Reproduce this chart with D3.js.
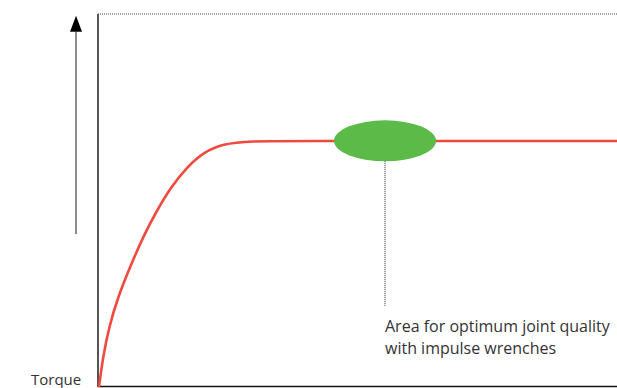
<!DOCTYPE html>
<html>
<head>
<meta charset="utf-8">
<script src="https://cdn.jsdelivr.net/npm/d3@7"></script>
<style>
  body { margin: 0; background: #fff; }
  svg { display: block; }
  text { font-family: "Open Sans", "Liberation Sans", Arial, sans-serif; fill: #333; }
</style>
</head>
<body>
<div id="chart-div"></div>
<script>
var props = {
  width: 617,
  height: 388,
  marginTop: 14,
  marginBottom: 1,
  marginLeft: 98,
  marginRight: 0
}

// torque curve, time (%) vs torque (%)
var curveTime   = [0.19, 0.96, 2.12, 3.85, 6.17, 8.67, 11.18, 14.07, 17.15, 20.42, 24.08, 28.9, 40, 70, 100];
var curveTorque = [0, 8.04, 16.09, 24.13, 32.17, 40.21, 46.92, 53.62, 58.98, 63.0, 65.15, 65.95, 65.95, 65.95, 65.95];

var optimumArea = [{time: 55.3, torque: 66}];
var calloutEnd = 21.7;
var yLabel = "Torque";
var noteLines = ["Area for optimum joint quality", "with impulse wrenches"];

var svg = d3.select("#chart-div").append("svg").attr("width", props.width).attr("height", props.height);

var xScale = d3.scaleLinear().domain([0, 100]).range([props.marginLeft, props.width - props.marginRight]);
var yScale = d3.scaleLinear().domain([0, 100]).range([props.height - props.marginBottom, props.marginTop]);

var points = curveTime.map(function(t, i){ return {x: t, y: curveTorque[i]}; });

// top dotted border
svg.append("line")
  .attr("x1", xScale(0)).attr("x2", xScale(100))
  .attr("y1", yScale(100)).attr("y2", yScale(100))
  .style("stroke", "#444").style("stroke-width", 1).style("stroke-dasharray", "1,1");

// y axis
svg.append("line")
  .attr("x1", xScale(0)).attr("x2", xScale(0))
  .attr("y1", yScale(100)).attr("y2", yScale(0))
  .style("stroke", "#555").style("stroke-width", 2);

// x axis
svg.append("line")
  .attr("x1", xScale(0)).attr("x2", xScale(100))
  .attr("y1", yScale(0) - 0.5).attr("y2", yScale(0) - 0.5)
  .style("stroke", "#111").style("stroke-width", 1.5);

// arrow beside y axis
var arrowTop = yScale(99.5);
svg.append("line")
  .attr("x1", 76).attr("x2", 76)
  .attr("y1", yScale(41)).attr("y2", arrowTop + 16)
  .style("stroke", "#666").style("stroke-width", 1.5);
svg.append("path")
  .attr("d", "M70," + (arrowTop + 16) + " L76," + arrowTop + " L82," + (arrowTop + 16) + " Z")
  .style("fill", "#000");

svg.append("text")
  .attr("x", 31).attr("y", 385)
  .style("font-size", "15px")
  .text(yLabel);

// torque curve
var lineGenerator = d3.line()
  .x(function(d){ return xScale(d.x); })
  .y(function(d){ return yScale(d.y); })
  .curve(d3.curveBasis);

svg.append("path")
  .datum(points)
  .attr("d", lineGenerator)
  .style("fill", "none")
  .style("stroke", "#f04a3f")
  .style("stroke-width", 2.6);

// callout dotted line
svg.selectAll(".callout")
  .data(optimumArea)
  .enter()
  .append("line")
  .attr("class", "callout")
  .attr("x1", function(d){ return xScale(d.time); })
  .attr("x2", function(d){ return xScale(d.time); })
  .attr("y1", function(d){ return yScale(d.torque); })
  .attr("y2", yScale(calloutEnd))
  .style("stroke", "#222").style("stroke-width", 1).style("stroke-dasharray", "1,1");

// optimum area ellipse
svg.selectAll(".area")
  .data(optimumArea)
  .enter()
  .append("ellipse")
  .attr("class", "area")
  .attr("cx", function(d){ return xScale(d.time); })
  .attr("cy", function(d){ return yScale(d.torque); })
  .attr("rx", 51)
  .attr("ry", 20.5)
  .style("fill", "#5cbb48");

svg.selectAll(".note")
  .data(noteLines)
  .enter()
  .append("text")
  .attr("class", "note")
  .attr("x", xScale(optimumArea[0].time))
  .attr("y", function(d, i){ return 332 + i * 21.5; })
  .style("font-size", "16px")
  .text(function(d){ return d; });
</script>
</body>
</html>
